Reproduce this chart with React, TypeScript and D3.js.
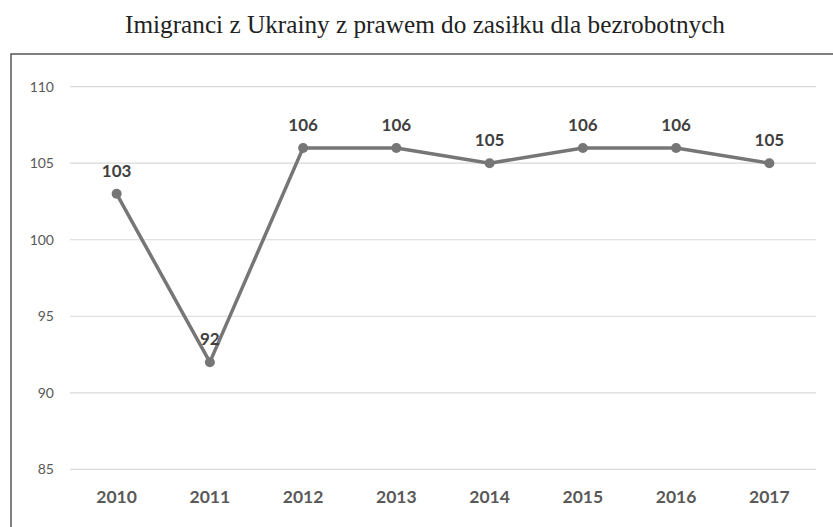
import React from "react";
import * as d3 from "d3";

const years = ["2010", "2011", "2012", "2013", "2014", "2015", "2016", "2017"];
const values = [103, 92, 106, 106, 105, 106, 106, 105];
const yTicks = [85, 90, 95, 100, 105, 110];
const title = "Imigranci z Ukrainy z prawem do zasiłku dla bezrobotnych";

const W = 833;
const H = 527;

export default function App() {
  const left = 70;
  const right = 816;
  const top = 86.7;
  const bottom = 469.3;

  const x = d3.scaleBand().domain(years).range([left, right]);
  const y = d3.scaleLinear().domain([85, 110]).range([bottom, top]);
  const cx = (d: string) => (x(d) as number) + x.bandwidth() / 2;

  const line = d3
    .line<number>()
    .x((d, i) => cx(years[i]))
    .y((d) => y(d));

  return (
    <svg
      width={W}
      height={H}
      style={{ position: "absolute", left: 0, top: 0, background: "#fff" }}
    >
      <text
        x={425}
        y={33}
        textAnchor="middle"
        fontFamily="'Liberation Serif', serif"
        fontSize={25}
        textLength={600}
        lengthAdjust="spacingAndGlyphs"
        fill="#222"
      >
        {title}
      </text>
      <rect x={11} y={54} width={840} height={490} fill="none" stroke="#555" strokeWidth={1.5} />

      {yTicks.map((t) => (
        <g key={t}>
          <line x1={left} x2={right} y1={y(t)} y2={y(t)} stroke="#d9d9d9" strokeWidth={1.2} />
          <text
            x={54}
            y={y(t)}
            dy="0.35em"
            textAnchor="end"
            fontFamily="Lato, sans-serif"
            fontSize={14}
            fill="#595959"
          >
            {t}
          </text>
        </g>
      ))}

      {years.map((yr) => (
        <text
          key={yr}
          x={cx(yr)}
          y={497}
          dy="0.35em"
          textAnchor="middle"
          fontFamily="Lato, sans-serif"
          fontWeight="bold"
          fontSize={17.5}
          fill="#595959"
        >
          {yr}
        </text>
      ))}

      <path d={line(values) || ""} fill="none" stroke="#767676" strokeWidth={3.5} strokeLinejoin="round" />
      {values.map((v, i) => (
        <circle key={i} cx={cx(years[i])} cy={y(v)} r={5} fill="#767676" />
      ))}
      {values.map((v, i) => (
        <text
          key={"l" + i}
          x={cx(years[i])}
          y={y(v) - 17}
          textAnchor="middle"
          fontFamily="Lato, sans-serif"
          fontWeight="bold"
          fontSize={17}
          fill="#404040"
        >
          {v}
        </text>
      ))}
    </svg>
  );
}
